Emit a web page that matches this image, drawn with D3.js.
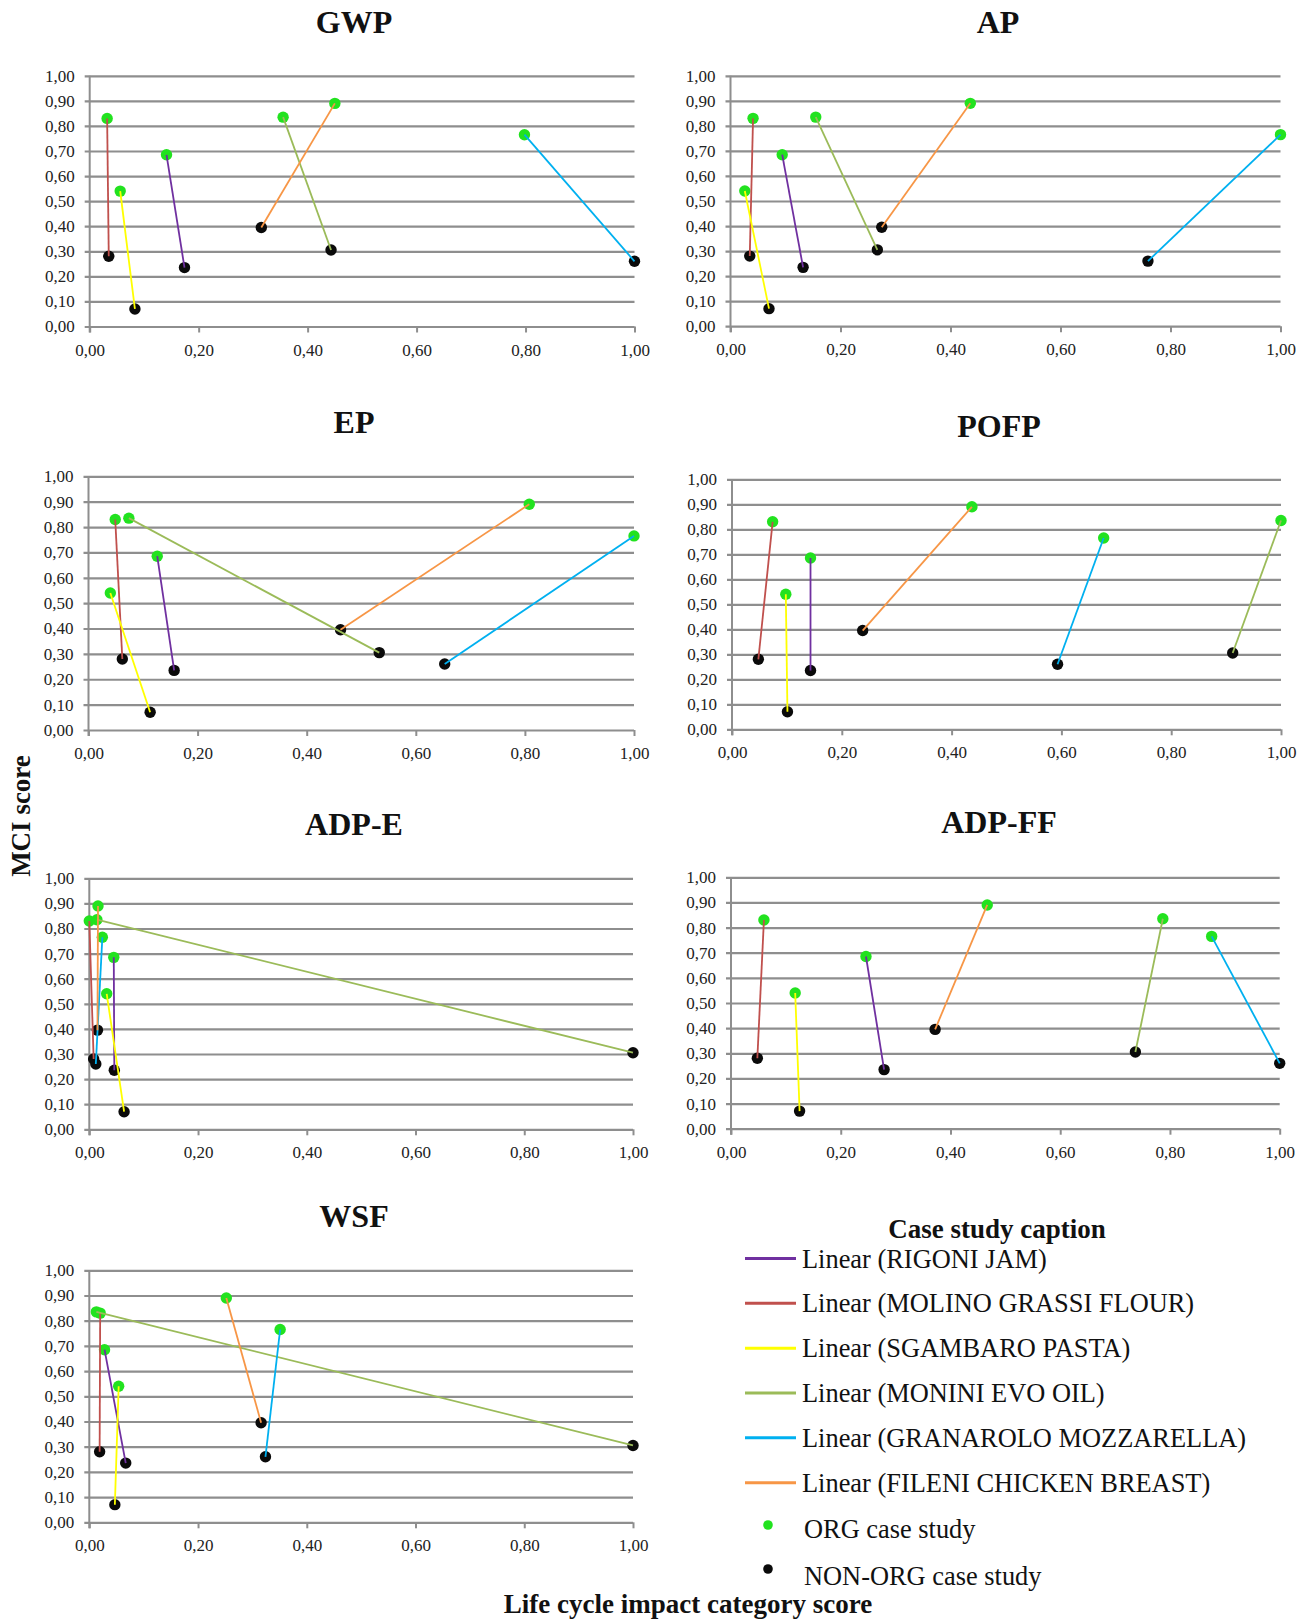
<!DOCTYPE html>
<html lang="en">
<head>
  <meta charset="UTF-8">
  <title>MCI score vs life cycle impact category score</title>
  <script src="https://d3js.org/d3.v7.min.js"></script>
  <style>
    body, html { margin: 0; padding: 0; background: #fff; }
    svg text { font-family: "Liberation Serif", "Times New Roman", serif; fill: #111; }
  </style>
</head>
<body>
<svg width="1304" height="1623"></svg>
<script>
  // case studies (order as in the legend)
  let companies = ["RIGONI JAM", "MOLINO GRASSI FLOUR", "SGAMBARO PASTA",
                   "MONINI EVO OIL", "GRANAROLO MOZZARELLA", "FILENI CHICKEN BREAST"];
  let lineColors = ["#7030a0", "#c0504d", "#ffff00", "#9bbb59", "#00b0f0", "#f79646"];

  // MCI score (y) — same in every panel
  let mciOrg = [0.685, 0.83, 0.54, 0.835, 0.765, 0.89];
  let mciNonOrg = [0.235, 0.28, 0.07, 0.305, 0.26, 0.395];

  // life cycle impact category score (x), per category
  let categories = ["GWP", "AP", "EP", "POFP", "ADP-E", "ADP-FF", "WSF"];
  let gwpOrg = [0.141, 0.032, 0.056, 0.355, 0.798, 0.450];
  let gwpNonOrg = [0.174, 0.035, 0.083, 0.443, 1.00, 0.315];
  let apOrg = [0.094, 0.041, 0.026, 0.155, 1.00, 0.436];
  let apNonOrg = [0.132, 0.035, 0.070, 0.267, 0.759, 0.275];
  let epOrg = [0.126, 0.049, 0.040, 0.074, 1.00, 0.808];
  let epNonOrg = [0.157, 0.062, 0.113, 0.533, 0.653, 0.462];
  let pofpOrg = [0.143, 0.074, 0.098, 1.00, 0.677, 0.437];
  let pofpNonOrg = [0.143, 0.048, 0.101, 0.912, 0.593, 0.238];
  let adpeOrg = [0.045, 0.000, 0.032, 0.014, 0.024, 0.016];
  let adpeNonOrg = [0.046, 0.008, 0.064, 1.00, 0.012, 0.015];
  let adpffOrg = [0.246, 0.060, 0.117, 0.787, 0.876, 0.467];
  let adpffNonOrg = [0.279, 0.048, 0.125, 0.737, 1.00, 0.372];
  let wsfOrg = [0.028, 0.020, 0.054, 0.013, 0.351, 0.252];
  let wsfNonOrg = [0.067, 0.019, 0.047, 1.00, 0.324, 0.316];

  let tickY = d3.range(0, 11).map(d => d / 10);
  let tickX = d3.range(0, 6).map(d => d / 5);
  let fmt = d => d.toFixed(2).replace(".", ",");

  let xOrg = [gwpOrg, apOrg, epOrg, pofpOrg, adpeOrg, adpffOrg, wsfOrg];
  let xNonOrg = [gwpNonOrg, apNonOrg, epNonOrg, pofpNonOrg, adpeNonOrg, adpffNonOrg, wsfNonOrg];

  // panel frames: plot left/right, top (1.00) / bottom (0.00), title position
  let frames = [
    {l: 89.7, r: 634.5, t: 75.8, b: 326.5, tx: 354, ty: 33},
    {l: 730.5, r: 1280.5, t: 75.8, b: 326.2, tx: 998, ty: 33},
    {l: 88.5, r: 634, t: 476.3, b: 730, tx: 354, ty: 433},
    {l: 732, r: 1281, t: 479.3, b: 729.3, tx: 999, ty: 436.5},
    {l: 89.3, r: 633, t: 878.3, b: 1129.3, tx: 354, ty: 835},
    {l: 731, r: 1279.7, t: 877.3, b: 1128.7, tx: 999, ty: 833},
    {l: 89.3, r: 633, t: 1270.3, b: 1522.3, tx: 354, ty: 1226.5}
  ];

  let serif = "'Liberation Serif', 'Times New Roman', serif";
  let svg = d3.select("svg");

  categories.forEach(function (cat, i) {
    let f = frames[i];
    let x = d3.scaleLinear().domain([0, 1]).range([f.l, f.r]);
    let y = d3.scaleLinear().domain([0, 1]).range([f.b, f.t]);
    let g = svg.append("g").attr("class", "panel");

    g.append("text")
      .attr("x", f.tx).attr("y", f.ty)
      .attr("text-anchor", "middle")
      .attr("font-size", 32).attr("font-weight", "bold")
      .text(cat);

    // horizontal grid + left ticks
    g.append("g")
      .attr("transform", `translate(${f.l},0)`)
      .call(d3.axisLeft(y).tickValues(tickY).tickFormat(fmt)
        .tickSizeInner(-(f.r - f.l)).tickSizeOuter(0).tickPadding(15))
      .call(s => s.select(".domain").remove())
      .call(s => s.selectAll(".tick line").attr("x1", -5)
        .attr("stroke", "#8e8e8e").attr("stroke-width", 2.2))
      .call(s => s.selectAll(".tick text").style("font-size", "17px")
        .style("font-family", serif).style("fill", "#222"));

    // vertical axis line
    g.append("line")
      .attr("x1", f.l).attr("x2", f.l)
      .attr("y1", f.t).attr("y2", f.b + 6)
      .attr("stroke", "#8e8e8e").attr("stroke-width", 2);

    // bottom ticks + labels
    g.append("g")
      .attr("transform", `translate(0,${f.b})`)
      .call(d3.axisBottom(x).tickValues(tickX).tickFormat(fmt)
        .tickSizeInner(6).tickSizeOuter(0).tickPadding(11))
      .call(s => s.select(".domain").remove())
      .call(s => s.selectAll(".tick line").attr("stroke", "#8e8e8e").attr("stroke-width", 2))
      .call(s => s.selectAll(".tick text").style("font-size", "17px")
        .style("font-family", serif).style("fill", "#222"));

    let rows = companies.map((c, k) => ({
      k: k, xo: xOrg[i][k], yo: mciOrg[k], xn: xNonOrg[i][k], yn: mciNonOrg[k]
    }));

    g.selectAll("circle.org").data(rows).enter().append("circle")
      .attr("class", "org")
      .attr("cx", d => x(d.xo)).attr("cy", d => y(d.yo))
      .attr("r", 5.7).attr("fill", "#22e21f");

    g.selectAll("circle.non").data(rows).enter().append("circle")
      .attr("class", "non")
      .attr("cx", d => x(d.xn)).attr("cy", d => y(d.yn))
      .attr("r", 5.7).attr("fill", "#0a0a0a");

    g.selectAll("line.trend").data(rows).enter().append("line")
      .attr("class", "trend")
      .attr("x1", d => x(d.xo)).attr("y1", d => y(d.yo))
      .attr("x2", d => x(d.xn)).attr("y2", d => y(d.yn))
      .attr("stroke", d => lineColors[d.k]).attr("stroke-width", 1.8);
  });

  // axis titles
  svg.append("text")
    .attr("x", 688).attr("y", 1613)
    .attr("text-anchor", "middle")
    .attr("font-size", 27).attr("font-weight", "bold")
    .text("Life cycle impact category score");

  svg.append("text")
    .attr("transform", "translate(30,816) rotate(-90)")
    .attr("text-anchor", "middle")
    .attr("font-size", 27).attr("font-weight", "bold")
    .text("MCI score");

  // legend
  let legend = svg.append("g").attr("class", "legend");
  legend.append("text")
    .attr("x", 997).attr("y", 1238)
    .attr("text-anchor", "middle")
    .attr("font-size", 27).attr("font-weight", "bold")
    .text("Case study caption");

  let legendY = d3.scaleLinear().domain([0, 5]).range([1258.5, 1482.7]);
  let items = legend.selectAll("g.item").data(companies).enter().append("g")
    .attr("class", "item")
    .attr("transform", (d, k) => `translate(0,${legendY(k)})`);
  items.append("line")
    .attr("x1", 745).attr("x2", 796).attr("y1", 0).attr("y2", 0)
    .attr("stroke", (d, k) => lineColors[k]).attr("stroke-width", 3);
  items.append("text")
    .attr("x", 802).attr("y", 9)
    .attr("font-size", 26.4).attr("fill", "#222")
    .text(d => "Linear (" + d + ")");

  let markerItems = [
    {label: "ORG case study", fill: "#22e21f", cy: 1525, ty: 1538},
    {label: "NON-ORG case study", fill: "#0a0a0a", cy: 1569, ty: 1585}
  ];
  legend.selectAll("circle.mk").data(markerItems).enter().append("circle")
    .attr("class", "mk")
    .attr("cx", 768).attr("cy", d => d.cy).attr("r", 4.8).attr("fill", d => d.fill);
  legend.selectAll("text.mk").data(markerItems).enter().append("text")
    .attr("class", "mk")
    .attr("x", 804).attr("y", d => d.ty)
    .attr("font-size", 26.4).attr("fill", "#222")
    .text(d => d.label);
</script>
</body>
</html>
